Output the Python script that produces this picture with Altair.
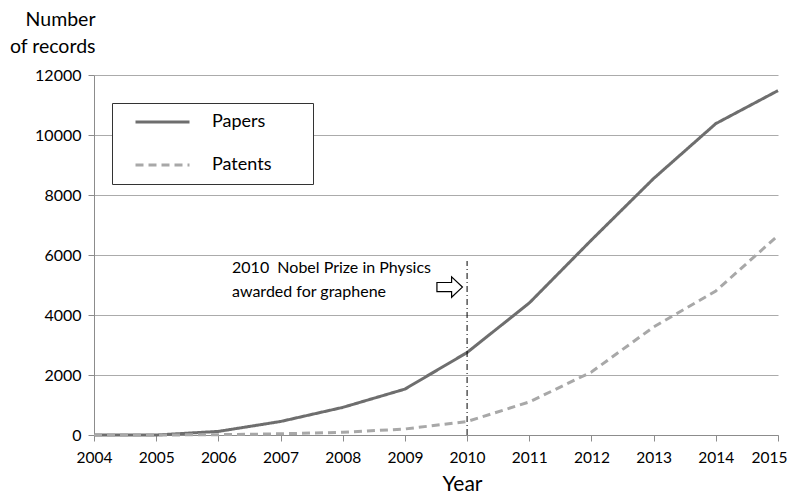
import altair as alt
import pandas as pd

years = [2004, 2005, 2006, 2007, 2008, 2009, 2010, 2011, 2012, 2013, 2014, 2015]
papers = [0, 0, 120, 450, 920, 1530, 2750, 4400, 6500, 8550, 10380, 11480]
patents = [0, 0, 10, 40, 90, 200, 450, 1100, 2100, 3600, 4800, 6650]
series_names = ["Papers", "Patents"]
y_ticks = [0, 2000, 4000, 6000, 8000, 10000, 12000]

note_lines = ["2010\u00a0 Nobel Prize in Physics", "awarded for graphene"]
note_x = [2006.22, 2006.22]
note_y = [5570, 4770]
arrow_x = [2009.72]
arrow_y = [4930]
nobel_year = [2010]
nobel_bottom = [0]
nobel_top = [5800]

FONT = "Lato"
BLANK = "\u00a0"

rows = []
for i, yr in enumerate(years):
    rows.append({"year": yr, "value": papers[i], "series": "Papers"})
    rows.append({"year": yr, "value": patents[i], "series": "Patents"})
df = pd.DataFrame(rows)

xscale = alt.Scale(domain=[2004, 2015], nice=False, zero=False)
yscale = alt.Scale(domain=[0, 12000], nice=False)

legend = alt.Legend(title=BLANK, titleOrient="right", titlePadding=32,
                    titleFontSize=18)

last_year_test = "datum.value == " + str(years[-1])

lines = alt.Chart(df).mark_line(strokeWidth=3).encode(
    x=alt.X("year:Q", scale=xscale,
            axis=alt.Axis(values=years, format="d", grid=False, title="Year",
                          labelFlush=False, labelPadding=9, labelFontSize=15.5,
                          labelAlign={"condition": {"test": last_year_test, "value": "right"},
                                      "value": "center"},
                          labelOffset={"condition": {"test": last_year_test, "value": 9},
                                       "value": 0},
                          titleFontSize=21,
                          titleX=368, titleY=55, titleAlign="center",
                          titleBaseline="alphabetic")),
    y=alt.Y("value:Q", scale=yscale,
            axis=alt.Axis(values=y_ticks, format="d", grid=True,
                          title=["Number", "of records"], titleAngle=0,
                          titleFontSize=19.5,
                          titleAlign="right", titleBaseline="alphabetic",
                          titleX=1, titleY=-50, titleLineHeight=27)),
    color=alt.Color("series:N",
                    scale=alt.Scale(domain=series_names, range=["#6e6e6e", "#a8a8a8"]),
                    legend=legend),
    strokeDash=alt.StrokeDash("series:N",
                              scale=alt.Scale(domain=series_names, range=[[1, 0], [8, 5]]),
                              legend=legend),
)

vline = alt.Chart(pd.DataFrame({"year": nobel_year, "bottom": nobel_bottom, "top": nobel_top})).mark_rule(
    color="#000000", strokeWidth=1, strokeDash=[6, 3, 1, 3]
).encode(
    x=alt.X("year:Q", scale=xscale),
    y=alt.Y("bottom:Q", scale=yscale),
    y2="top:Q",
)

notes = alt.Chart(pd.DataFrame({"x": note_x, "y": note_y, "t": note_lines})).mark_text(
    align="left", baseline="middle", font=FONT, fontSize=16, color="#000000"
).encode(
    x=alt.X("x:Q", scale=xscale),
    y=alt.Y("y:Q", scale=yscale),
    text="t:N",
)

arrow_path = "M-1,-0.36 L0.15,-0.36 L0.15,-0.8 L1,0 L0.15,0.8 L0.15,0.36 L-1,0.36 Z"
arrow = alt.Chart(pd.DataFrame({"x": arrow_x, "y": arrow_y})).mark_point(
    shape=arrow_path, size=650, filled=True, fill="#ffffff", stroke="#000000",
    strokeWidth=1.2, opacity=1
).encode(
    x=alt.X("x:Q", scale=xscale),
    y=alt.Y("y:Q", scale=yscale),
)

chart = alt.layer(lines, vline, notes, arrow).properties(
    width=684, height=360,
    autosize=alt.AutoSizeParams(type="none"),
    padding={"left": 86, "top": 67, "right": 10, "bottom": 60},
).configure_view(stroke=None).configure_axis(
    labelFont=FONT, labelFontSize=16, labelColor="#000000",
    titleFont=FONT, titleFontWeight="normal", titleColor="#000000",
    domainColor="#8c8c8c", tickColor="#8c8c8c", gridColor="#ababab",
    tickSize=6, labelPadding=7, domainWidth=1, gridWidth=1,
).configure_legend(
    orient="none", legendX=18, legendY=28,
    strokeColor="#333333", fillColor="#ffffff", padding=10,
    symbolType="stroke", symbolSize=2916, symbolStrokeWidth=3, symbolOffset=12,
    labelFont=FONT, labelFontSize=18, labelColor="#000000", labelOffset=21,
    rowPadding=25, clipHeight=18,
)

chart.save("out.html", embed_options={"renderer": "svg", "actions": False})
